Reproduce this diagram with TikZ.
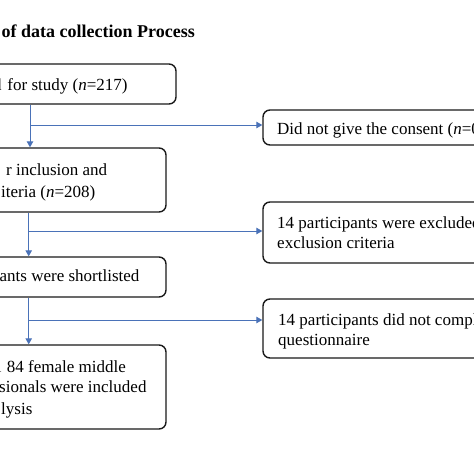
\documentclass[tikz,border=0pt]{standalone}
\usepackage{fontspec}
\setmainfont{Liberation Serif}
\usetikzlibrary{arrows.meta}
\definecolor{lineblue}{HTML}{4A72B8}
\definecolor{boxline}{HTML}{1A1A1A}
\begin{document}
\begin{tikzpicture}[x=1pt,y=-1pt,
  box/.style={draw=boxline, line width=1.4pt, rounded corners=7pt, inner sep=0pt},
  txt/.style={anchor=base west, inner sep=0pt, font=\fontsize{17}{21}\selectfont},
  ttl/.style={anchor=base west, inner sep=0pt, font=\fontsize{18}{22}\selectfont\bfseries},
  conn/.style={draw=lineblue, line width=0.9pt},
  arr/.style={conn, -{Triangle[length=6pt,width=6.5pt]}}]
\path[use as bounding box, clip] (0,0) rectangle (474,474);
\fill[white] (0,0) rectangle (474,474);
% title
\node[ttl] (title) at (1.5,37) {of data collection Process};
% left boxes
\node[box, minimum width=236pt, minimum height=40pt] (b1) at (58,84) {};
\node[box, minimum width=226pt, minimum height=64pt] (b2) at (53,180) {};
\node[box, minimum width=226pt, minimum height=40pt] (b3) at (53,277) {};
\node[box, minimum width=226pt, minimum height=84pt] (b4) at (53,387) {};
% right boxes
\node[box, minimum width=277pt, minimum height=35pt] (r1) at (401.5,127.5) {};
\node[box, minimum width=277pt, minimum height=61pt] (r2) at (401.5,232.5) {};
\node[box, minimum width=277pt, minimum height=59pt] (r3) at (401.5,328.5) {};
% texts
\node[txt] (t1) at (-7,90) {d\kern1.5pt{} for study (\textit{n}=217)};
\node[txt] (t2a) at (6,175) {r inclusion and};
\node[txt] (t2b) at (1,197) {iteria (\textit{n}=208)};
\node[txt] (t3) at (-0.5,281) {ants were shortlisted};
\node[txt] (t4a) at (-3.3,372) {l\kern1pt{} 84 female middle};
\node[txt] (t4b) at (-1,392) {sionals were included};
\node[txt] (t4c) at (1,414) {lysis};
\node[txt] (s1) at (277,134) {Did not give the consent (\textit{n}=0)};
\node[txt] (s2a) at (277,228) {14 participants were excluded};
\node[txt] (s2b) at (277,248) {exclusion criteria};
\node[txt] (s3a) at (278,325) {14 participants did not complete};
\node[txt] (s3b) at (278,345) {questionnaire};
% connectors
\coordinate (v1) at (30,0);
\coordinate (v2) at (28.7,0);
\coordinate (j1) at (30,125);
\coordinate (j2) at (28.7,231);
\coordinate (j3) at (28.7,320);
\draw[arr] (b1.south -| v1) -- (b2.north -| v1);
\draw[arr] (j1) -- (j1 -| r1.west);
\draw[arr] (b2.south -| v2) -- (b3.north -| v2);
\draw[arr] (j2) -- (j2 -| r2.west);
\draw[arr] (b3.south -| v2) -- (b4.north -| v2);
\draw[arr] (j3) -- (j3 -| r3.west);
\end{tikzpicture}
\end{document}
